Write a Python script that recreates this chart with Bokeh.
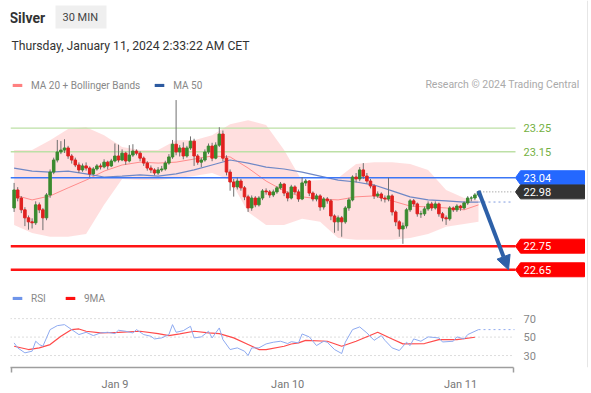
import pandas as pd
from bokeh.plotting import figure
from bokeh.models import (Range1d, FixedTicker, Legend, LegendItem, Arrow,
                          NormalHead, Label, Span)
from bokeh.core.properties import value
from bokeh.embed import file_html
from bokeh.resources import INLINE

# ---------------------------------------------------------------- data
instrument = "Silver"
timeframe = "30 MIN"
timestamp_text = "Thursday, January 11, 2024 2:33:22 AM CET"
credit = "Research \u00a9 2024 Trading Central"
first_candle = "2024-01-08 10:00"
tick_labels = ["Jan 9", "Jan 10", "Jan 11"]

opens = [22.912, 22.988, 22.954, 22.904, 22.870, 22.853, 22.849, 22.925, 22.904, 22.870,
         22.967, 23.064, 23.115, 23.149, 23.157, 23.166, 23.132, 23.115, 23.094, 23.073,
         23.090, 23.081, 23.056, 23.077, 23.090, 23.086, 23.106, 23.090, 23.111, 23.132,
         23.115, 23.144, 23.111, 23.136, 23.153, 23.144, 23.123, 23.102, 23.081, 23.073,
         23.060, 23.073, 23.077, 23.102, 23.128, 23.182, 23.149, 23.166, 23.132, 23.166,
         23.195, 23.132, 23.106, 23.115, 23.149, 23.174, 23.123, 23.178, 23.225, 23.123,
         23.064, 23.022, 23.001, 23.026, 22.997, 22.959, 22.912, 22.954, 22.925, 22.954,
         22.984, 22.980, 22.967, 22.980, 22.997, 23.013, 22.975, 22.954, 23.001, 22.980,
         22.950, 23.018, 23.026, 22.975, 22.950, 22.963, 22.916, 22.950, 22.942, 22.878,
         22.853, 22.870, 22.853, 22.912, 22.946, 23.043, 23.035, 23.073, 23.047, 23.026,
         23.005, 22.963, 22.971, 22.954, 22.950, 22.963, 22.895, 22.853, 22.823, 22.836,
         22.904, 22.942, 22.929, 22.887, 22.887, 22.908, 22.929, 22.912, 22.929, 22.887,
         22.870, 22.866, 22.912, 22.904, 22.920, 22.912, 22.933, 22.954, 22.954, 22.967]
closes = [22.988, 22.954, 22.904, 22.870, 22.853, 22.849, 22.925, 22.904, 22.870, 22.967,
          23.064, 23.115, 23.149, 23.157, 23.166, 23.132, 23.115, 23.094, 23.073, 23.090,
          23.081, 23.056, 23.077, 23.090, 23.086, 23.106, 23.090, 23.111, 23.132, 23.115,
          23.144, 23.111, 23.136, 23.153, 23.144, 23.123, 23.102, 23.081, 23.073, 23.060,
          23.073, 23.077, 23.102, 23.128, 23.182, 23.149, 23.166, 23.132, 23.166, 23.195,
          23.132, 23.106, 23.115, 23.149, 23.174, 23.123, 23.178, 23.225, 23.123, 23.064,
          23.022, 23.001, 23.026, 22.997, 22.959, 22.912, 22.954, 22.925, 22.954, 22.984,
          22.980, 22.967, 22.980, 22.997, 23.013, 22.975, 22.954, 23.001, 22.980, 22.950,
          23.018, 23.026, 22.975, 22.950, 22.963, 22.916, 22.950, 22.942, 22.878, 22.853,
          22.870, 22.853, 22.912, 22.946, 23.043, 23.035, 23.073, 23.047, 23.026, 23.005,
          22.963, 22.971, 22.954, 22.950, 22.963, 22.895, 22.853, 22.823, 22.836, 22.904,
          22.942, 22.929, 22.887, 22.887, 22.908, 22.929, 22.912, 22.929, 22.887, 22.870,
          22.866, 22.912, 22.904, 22.920, 22.912, 22.933, 22.954, 22.954, 22.967, 22.980]
highs = [23.018, 23.000, 22.962, 22.915, 22.880, 22.868, 22.940, 22.935, 22.912, 22.975,
         23.075, 23.125, 23.200, 23.195, 23.203, 23.175, 23.140, 23.125, 23.105, 23.100,
         23.105, 23.088, 23.085, 23.098, 23.100, 23.118, 23.112, 23.120, 23.185, 23.180,
         23.160, 23.150, 23.178, 23.182, 23.160, 23.152, 23.130, 23.110, 23.092, 23.080,
         23.085, 23.090, 23.112, 23.140, 23.200, 23.369, 23.178, 23.190, 23.175, 23.215,
         23.205, 23.140, 23.125, 23.160, 23.185, 23.188, 23.190, 23.254, 23.240, 23.135,
         23.075, 23.035, 23.040, 23.035, 23.005, 22.968, 22.965, 22.962, 22.962, 22.992,
         22.995, 22.988, 22.990, 23.005, 23.022, 23.018, 22.982, 23.010, 23.008, 22.990,
         23.043, 23.035, 23.030, 22.982, 22.972, 22.970, 22.958, 22.958, 22.950, 22.885,
         22.880, 22.878, 22.920, 22.955, 23.050, 23.060, 23.085, 23.102, 23.060, 23.035,
         23.012, 22.982, 22.978, 22.965, 23.040, 22.970, 22.902, 22.860, 22.850, 22.912,
         22.950, 22.950, 22.935, 22.900, 22.918, 22.940, 22.938, 22.940, 22.935, 22.895,
         22.880, 22.920, 22.918, 22.928, 22.925, 22.940, 22.962, 22.962, 22.975, 22.985]
lows = [22.895, 22.940, 22.890, 22.835, 22.820, 22.825, 22.840, 22.890, 22.818, 22.860,
        22.955, 23.055, 23.105, 23.140, 23.145, 23.120, 23.100, 23.085, 23.060, 23.065,
        23.070, 23.042, 23.050, 23.070, 23.075, 23.080, 23.075, 23.085, 23.105, 23.105,
        23.110, 23.095, 23.105, 23.128, 23.135, 23.110, 23.090, 23.070, 23.060, 23.050,
        23.052, 23.065, 23.070, 23.095, 23.120, 23.135, 23.130, 23.118, 23.125, 23.158,
        23.090, 23.095, 23.085, 23.108, 23.140, 23.110, 23.118, 23.170, 23.110, 23.050,
        22.985, 22.960, 22.990, 22.985, 22.945, 22.895, 22.900, 22.915, 22.918, 22.945,
        22.968, 22.955, 22.958, 22.972, 22.990, 22.962, 22.940, 22.948, 22.970, 22.938,
        22.945, 23.005, 22.962, 22.940, 22.940, 22.900, 22.905, 22.930, 22.860, 22.807,
        22.815, 22.790, 22.845, 22.900, 22.940, 23.020, 23.025, 23.035, 23.015, 22.995,
        22.950, 22.955, 22.940, 22.935, 22.940, 22.880, 22.835, 22.790, 22.760, 22.825,
        22.895, 22.918, 22.875, 22.870, 22.878, 22.900, 22.900, 22.905, 22.875, 22.855,
        22.840, 22.858, 22.895, 22.895, 22.900, 22.905, 22.925, 22.940, 22.945, 22.960]

# indicator readings (candle index where read)
ind_idx = [0, 5, 10, 15, 20, 25, 30, 35, 40, 45, 50, 55, 60, 65, 70, 75, 80, 85, 90,
           95, 100, 105, 110, 115, 120, 125, 129]
ma20 = [22.967, 22.946, 22.963, 22.997, 23.030, 23.068, 23.094, 23.106, 23.102, 23.106,
        23.119, 23.132, 23.128, 23.081, 23.026, 22.984, 22.959, 22.950, 22.946, 22.959,
        22.963, 22.942, 22.920, 22.916, 22.912, 22.904, 22.925]
ma50 = [23.081, 23.068, 23.064, 23.068, 23.056, 23.043, 23.047, 23.052, 23.047, 23.056,
        23.073, 23.094, 23.115, 23.102, 23.085, 23.077, 23.064, 23.047, 23.030, 23.022,
        23.009, 22.984, 22.959, 22.946, 22.942, 22.937, 22.937]
bb_upper = [23.157, 23.157, 23.199, 23.246, 23.254, 23.220, 23.170, 23.157, 23.157, 23.199,
            23.199, 23.220, 23.267, 23.284, 23.263, 23.157, 23.026, 23.030, 23.039, 23.098,
            23.106, 23.106, 23.098, 23.073, 22.988, 22.954, 22.946]
bb_lower = [22.840, 22.806, 22.790, 22.790, 22.802, 22.925, 23.035, 23.030, 23.030, 23.039,
            23.047, 23.060, 23.030, 22.895, 22.840, 22.840, 22.866, 22.853, 22.785, 22.777,
            22.777, 22.777, 22.785, 22.802, 22.832, 22.844, 22.853]

rsi_idx = [0, 1, 3, 5, 6, 7, 8, 10, 12, 14, 16, 18, 20, 22, 24, 26, 28, 29, 31, 33, 34,
           36, 38, 39, 41, 43, 44, 45, 47, 49, 50, 52, 54, 55, 57, 58, 60, 62, 64, 65, 66,
           68, 70, 72, 74, 76, 77, 79, 80, 82, 84, 86, 87, 89, 91, 92, 94, 96, 98, 100,
           102, 103, 105, 107, 109, 110, 111, 113, 115, 118, 119, 122, 123, 125, 126, 129]
rsi_val = [43.7, 38.3, 32.9, 34.7, 45.5, 41.9, 40.1, 58.1, 62.4, 63.5, 58.1, 52.7, 55.2,
           51.6, 54.5, 55.2, 53.8, 57.4, 56.3, 54.5, 58.1, 52.7, 50.9, 48.0, 49.1, 52.7,
           63.5, 55.2, 57.0, 61.7, 49.1, 50.2, 56.3, 49.1, 59.9, 47.3, 36.5, 38.3, 34.7,
           30.0, 38.3, 38.3, 42.6, 44.4, 45.5, 43.0, 45.0, 43.7, 53.4, 50.2, 40.8, 45.5,
           44.4, 36.5, 32.2, 44.4, 58.1, 61.0, 54.5, 46.5, 51.6, 46.5, 38.3, 35.4, 44.4,
           40.8, 48.0, 45.5, 50.2, 49.1, 44.7, 45.5, 50.2, 48.0, 52.7, 58.1]
rsi_ma_idx = [0, 4, 7, 10, 13, 16, 18, 20, 24, 29, 35, 40, 43, 46, 50, 54, 57, 61, 65,
              68, 70, 75, 77, 79, 81, 87, 91, 95, 101, 105, 108, 114, 118, 123, 128]
rsi_ma_val = [40.1, 36.5, 38.3, 41.9, 50.9, 58.1, 58.8, 56.3, 54.5, 55.2, 56.3, 53.8, 51.6,
              53.4, 56.3, 54.5, 53.8, 49.1, 41.9, 36.5, 36.5, 40.1, 42.5, 43.7, 46.5, 45.5,
              40.1, 45.5, 55.2, 48.0, 42.6, 43.0, 47.3, 47.3, 49.8]

resistance_levels = [23.25, 23.15]
pivot_level = 23.04
last_price = 22.98
support_levels = [22.75, 22.65]
target_price = 22.65
rsi_levels = [70, 50, 30]

# ---------------------------------------------------------------- layout helpers
W, H = 591, 393
FRAME_L, FRAME_B = 10, 368
n = len(closes)
idx = list(range(n))
times = pd.date_range(first_candle, periods=n, freq="30min")
day_pos = [i for i, t in enumerate(times) if t.hour == 0 and t.minute == 0]

PX_PER_BAR = 3.6
X_ANCHOR_PX = 460
Y_ANCHOR_PRICE, Y_ANCHOR_PX, PX_PER_USD = 23.25, 128, 236.7


def ix(px):
    return day_pos[-1] + (px - X_ANCHOR_PX) / PX_PER_BAR


def py(ypx):
    return Y_ANCHOR_PRICE - (ypx - Y_ANCHOR_PX) / PX_PER_USD


def ry(ypx):
    return 70 - (ypx - 319) * 40 / 37


FONT = "Roboto"

p = figure(width=W, height=H, output_backend="svg", toolbar_location=None,
           x_range=Range1d(ix(FRAME_L), ix(W)), y_range=Range1d(py(FRAME_B), py(0)),
           min_border_left=FRAME_L, min_border_right=0, min_border_top=0,
           min_border_bottom=H - FRAME_B, y_axis_location=None,
           background_fill_color="white", border_fill_color="white")
p.extra_y_ranges = {"rsi": Range1d(ry(FRAME_B), ry(0))}
p.grid.visible = False
p.outline_line_color = None

# ---------------- x axis
ax = p.xaxis[0]
ax.ticker = FixedTicker(ticks=day_pos, minor_ticks=[ix(10.5), ix(513)])
ax.major_label_overrides = {d: lab for d, lab in zip(day_pos, tick_labels)}
ax.bounds = (ix(10), ix(513))
ax.axis_line_color = "#9e9e9e"
ax.axis_line_width = 1.5
ax.major_tick_line_color = None
ax.major_tick_in = 0
ax.major_tick_out = 0
ax.minor_tick_line_color = "#9e9e9e"
ax.minor_tick_line_width = 1.5
ax.minor_tick_in = 0
ax.minor_tick_out = 5
ax.major_label_standoff = 5
ax.major_label_text_color = "#777777"
ax.major_label_text_font = FONT
ax.major_label_text_font_size = "11px"

# ---------------- header
p.quad(left=[ix(55)], right=[ix(106)], top=[py(5)], bottom=[py(28)],
       fill_color="#efefef", line_color=None)
p.add_layout(Label(x=ix(9), y=py(17.5), text=instrument, text_font=FONT,
                   text_font_size="14px", text_font_style="bold", text_color="#333333",
                   text_baseline="middle"))
p.add_layout(Label(x=ix(62), y=py(17.5), text=timeframe, text_font=FONT,
                   text_font_size="11px", text_color="#444444", text_baseline="middle"))
p.add_layout(Label(x=ix(11), y=py(46), text=timestamp_text, text_font=FONT,
                   text_font_size="12.2px", text_color="#333333", text_baseline="middle"))
p.add_layout(Label(x=ix(579), y=py(84), text=credit, text_font=FONT,
                   text_font_size="10.5px", text_color="#aaaaaa", text_baseline="middle",
                   text_align="right"))

# ---------------- bollinger band + moving averages
p.varea(x=ind_idx, y1=bb_lower, y2=bb_upper, fill_color="#ffdcdc", fill_alpha=0.9)
p.line(ind_idx, ma20, line_color="#ff8c8c", line_width=1)
p.line(ind_idx, ma50, line_color="#6f88c6", line_width=1.2)
p.segment(x0=[ind_idx[-1]], y0=[ma50[-1]], x1=[ix(513)], y1=[ma50[-1]],
          line_color="#7f9be0", line_width=1, line_dash="2 3")

# ---------------- horizontal levels
lx0, lx1 = ix(10), ix(515)
for lv in resistance_levels:
    p.segment(x0=[lx0], y0=[lv], x1=[lx1], y1=[lv], line_color="#bde0a6", line_width=1.3)
p.text(x=[ix(523)] * len(resistance_levels), y=resistance_levels,
       text=[f"{v:.2f}" for v in resistance_levels], text_color="#74b042",
       text_font=value(FONT), text_font_size="11px", text_baseline="middle")
p.segment(x0=[lx0], y0=[pivot_level], x1=[lx1], y1=[pivot_level],
          line_color="#3b76f6", line_width=1.5)
for lv in support_levels:
    p.segment(x0=[lx0], y0=[lv], x1=[lx1], y1=[lv], line_color="#ff1414", line_width=2.5)
p.segment(x0=[n - 0.5], y0=[last_price], x1=[ix(513)], y1=[last_price],
          line_color="#888888", line_width=1, line_dash="1 2")

# tags
tag_levels = [pivot_level, last_price] + support_levels
tag_colors = ["#2468ff", "#333333", "#ff0000", "#ff0000"]
hh = 7 / PX_PER_USD
tx = [ix(515), ix(520), ix(584), ix(584), ix(520)]
p.patches(xs=[tx for _ in tag_levels],
          ys=[[lv, lv + hh, lv + hh, lv - hh, lv - hh] for lv in tag_levels],
          fill_color=tag_colors, line_color=tag_colors)
p.text(x=[ix(523)] * len(tag_levels), y=tag_levels, text=[f"{v:.2f}" for v in tag_levels],
       text_color="white", text_font=value(FONT), text_font_size="11px",
       text_baseline="middle")

# ---------------- candles
colors = ["#3a8a2f" if c >= o else "#e0201f" for o, c in zip(opens, closes)]
p.segment(x0=idx, y0=lows, x1=idx, y1=highs, line_color="#707070", line_width=1)
p.vbar(x=idx, width=0.7, top=closes, bottom=opens, fill_color=colors, line_color=colors)

# ---------------- forecast arrow
p.add_layout(Arrow(end=NormalHead(size=14, fill_color="#2d60a8", line_color="#2d60a8"),
                   x_start=n - 1, y_start=highs[-1], x_end=ix(508), y_end=target_price,
                   line_color="#2d60a8", line_width=4))

# ---------------- RSI panel
for lv in rsi_levels:
    p.segment(x0=[ix(10)], y0=[lv], x1=[ix(514)], y1=[lv], y_range_name="rsi",
              line_color="#bbbbbb", line_width=1, line_dash="1 3")
p.text(x=[ix(523)] * len(rsi_levels), y=rsi_levels, text=[str(v) for v in rsi_levels],
       y_range_name="rsi", text_color="#888888", text_font=value(FONT),
       text_font_size="11px", text_baseline="middle")
p.line(rsi_ma_idx, rsi_ma_val, y_range_name="rsi", line_color="#ff4a4a", line_width=1.2)
p.line(rsi_idx, rsi_val, y_range_name="rsi", line_color="#8eaaf0", line_width=1)
p.segment(x0=[rsi_idx[-1]], y0=[rsi_val[-1]], x1=[ix(514)], y1=[rsi_val[-1]],
          y_range_name="rsi", line_color="#8eaaf0", line_width=1, line_dash="2 3")

# ---------------- legends (swatch renderers, placed off-frame so only the key shows)
OFF = ix(-200)
sw_ma20 = p.rect(x=[OFF], y=[23.0], width=1, height=0.01, fill_color="#ff8080", line_color=None)
sw_ma50 = p.rect(x=[OFF], y=[23.0], width=1, height=0.01, fill_color="#2d5aa0", line_color=None)
sw_rsi = p.rect(x=[OFF], y=[23.0], width=1, height=0.01, fill_color="#6f95ea", line_color=None)
sw_rma = p.rect(x=[OFF], y=[23.0], width=1, height=0.01, fill_color="#ff1010", line_color=None)


def make_legend(items, bottom_px):
    return Legend(items=items, orientation="horizontal", location=(1, FRAME_B - bottom_px),
                  padding=0, margin=0, spacing=13, glyph_width=12, glyph_height=4,
                  label_standoff=8, label_height=12, label_text_font=FONT,
                  label_text_font_size="10px", label_text_color="#888888",
                  border_line_color=None, background_fill_alpha=0)


p.add_layout(make_legend([LegendItem(label="MA 20 + Bollinger Bands", renderers=[sw_ma20]),
                          LegendItem(label="MA 50", renderers=[sw_ma50])], 92))
p.add_layout(make_legend([LegendItem(label="RSI", renderers=[sw_rsi]),
                          LegendItem(label="9MA", renderers=[sw_rma])], 305))

p.add_layout(Span(location=ix(587), dimension="height", line_color="#e6e6e6", line_width=1))

open("out.html", "w").write(file_html(p, INLINE))
